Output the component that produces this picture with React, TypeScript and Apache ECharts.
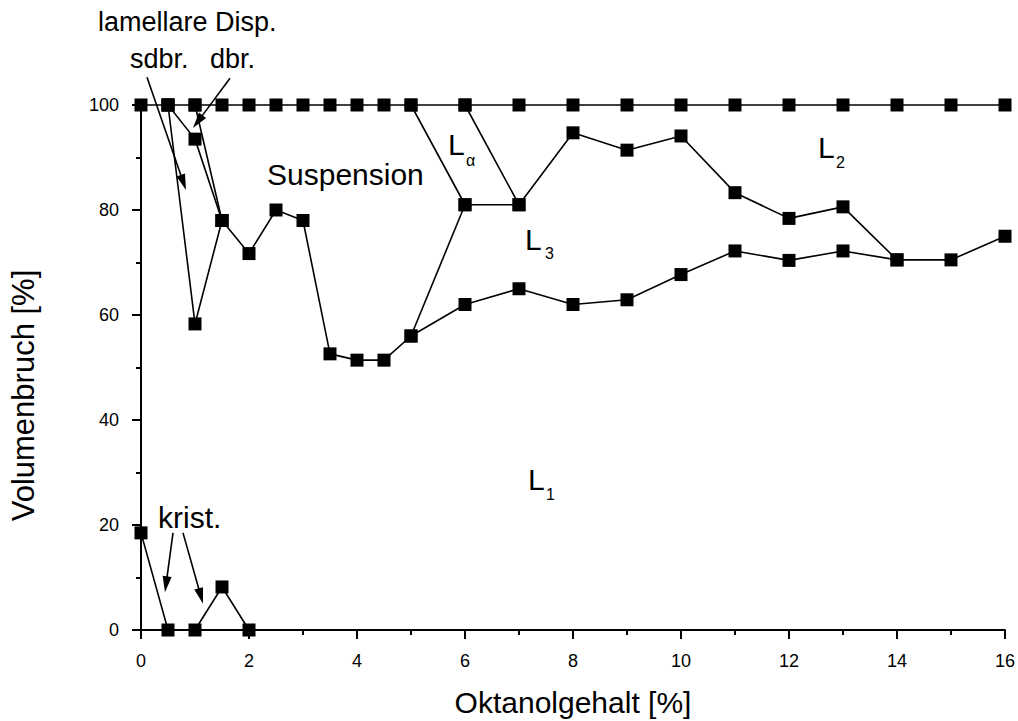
import React, { useEffect, useRef } from "react";
import * as echarts from "echarts";

// ---- Data (Oktanolgehalt [%] vs Volumenbruch [%]) ----
const topX = [0, 0.5, 1, 1.5, 2, 2.5, 3, 3.5, 4, 4.5, 5, 6, 7, 8, 9, 10, 11, 12, 13, 14, 15, 16];
const topY = [100, 100, 100, 100, 100, 100, 100, 100, 100, 100, 100, 100, 100, 100, 100, 100, 100, 100, 100, 100, 100, 100];

const suspX = [0.5, 1, 1.5, 2, 2.5, 3, 3.5, 4, 4.5, 5, 6, 7, 8, 9, 10, 11, 12, 13, 14, 15, 16];
const suspY = [100, 58.3, 78, 71.7, 80, 78, 52.6, 51.4, 51.4, 56, 62, 65, 62, 62.9, 67.7, 72.2, 70.4, 72.2, 70.5, 70.5, 75];

const dbrX = [0.5, 1, 1.5];
const dbrY = [100, 93.5, 78];

const dbr2X = [1, 1.5];
const dbr2Y = [100, 78];

const l3TopX = [5, 6, 7, 8, 9, 10, 11, 12, 13, 14];
const l3TopY = [100, 81, 81, 94.7, 91.4, 94.1, 83.3, 78.4, 80.6, 70.5];

const lAlphaX = [6, 7];
const lAlphaY = [100, 81];

const l3LowX = [5, 6];
const l3LowY = [56, 81];

const kristX = [0, 0.5, 1, 1.5, 2];
const kristY = [18.5, 0, 0, 8.2, 0];

// annotation arrows (data coordinates): start -> tip
const arrowFromX = [0.111, 1.648, 0.593, 0.778];
const arrowFromY = [105.3, 105.1, 18.5, 18.5];
const arrowTipX = [0.833, 0.963, 0.444, 1.148];
const arrowTipY = [83.8, 95.6, 7.2, 5.0];

const xTitle = "Oktanolgehalt [%]";
const yTitle = "Volumenbruch [%]";

const FONT = 'Arial, "Liberation Sans", Helvetica, sans-serif';

const zip = (xs: number[], ys: number[]) => xs.map((x, i) => [x, ys[i]]);

function lineSeries(name: string, xs: number[], ys: number[]) {
  return {
    name,
    type: "line",
    data: zip(xs, ys),
    symbol: "rect",
    symbolSize: 13,
    showSymbol: true,
    clip: false,
    silent: true,
    lineStyle: { color: "#000", width: 1.6 },
    itemStyle: { color: "#000", borderWidth: 0 },
    emphasis: { disabled: true },
  };
}

export default function App() {
  const ref = useRef<HTMLDivElement>(null);

  useEffect(() => {
    if (!ref.current) return;
    const chart = echarts.init(ref.current, undefined, { renderer: "svg" });

    const txt = (text: string, x: number, y: number, size: number) => ({
      type: "text",
      x,
      y,
      silent: true,
      style: {
        text,
        fontSize: size,
        fontFamily: FONT,
        fill: "#000",
        align: "left",
        verticalAlign: "middle",
      },
    });

    const axisCommon = {
      axisLine: { show: true, onZero: false, lineStyle: { color: "#000", width: 2 } },
      axisTick: { show: true, inside: false, length: 9, lineStyle: { color: "#000", width: 2 } },
      minorTick: { show: true, splitNumber: 2, length: 5, lineStyle: { color: "#000", width: 2 } },
      splitLine: { show: false },
      minorSplitLine: { show: false },
    };

    chart.setOption({
      animation: false,
      backgroundColor: "#fff",
      grid: {
        left: 141,
        right: 13,
        top: 105,
        bottom: 91,
        containLabel: false,
        outerBoundsMode: "none",
      },
      xAxis: {
        type: "value",
        min: 0,
        max: 16,
        interval: 2,
        name: xTitle,
        nameLocation: "middle",
        nameGap: 57,
        nameTextStyle: { fontSize: 30, color: "#000", fontFamily: FONT },
        axisLabel: { fontSize: 18, color: "#000", margin: 22, fontFamily: FONT },
        ...axisCommon,
      },
      yAxis: {
        type: "value",
        min: 0,
        max: 100,
        interval: 20,
        name: yTitle,
        nameLocation: "middle",
        nameGap: 102,
        nameTextStyle: { fontSize: 31, color: "#000", fontFamily: FONT, padding: [0, 56, 0, 0] },
        axisLabel: { fontSize: 18, color: "#000", margin: 22, fontFamily: FONT },
        ...axisCommon,
      },
      series: [
        lineSeries("top", topX, topY),
        lineSeries("suspension", suspX, suspY),
        lineSeries("dbr", dbrX, dbrY),
        lineSeries("dbr2", dbr2X, dbr2Y),
        lineSeries("L3 upper", l3TopX, l3TopY),
        lineSeries("L alpha", lAlphaX, lAlphaY),
        lineSeries("L3 lower", l3LowX, l3LowY),
        lineSeries("krist", kristX, kristY),
      ],
    });

    // arrows built from data coordinates through the grid's scales
    const arrowEls: any[] = [];
    const HEAD_L = 16;
    const HEAD_W = 4.5;
    arrowFromX.forEach((fx, i) => {
      const p0 = chart.convertToPixel({ gridIndex: 0 }, [fx, arrowFromY[i]]) as number[];
      const p1 = chart.convertToPixel({ gridIndex: 0 }, [arrowTipX[i], arrowTipY[i]]) as number[];
      const dx = p1[0] - p0[0];
      const dy = p1[1] - p0[1];
      const len = Math.sqrt(dx * dx + dy * dy);
      const ux = dx / len;
      const uy = dy / len;
      const bx = p1[0] - ux * HEAD_L;
      const by = p1[1] - uy * HEAD_L;
      arrowEls.push({
        type: "line",
        silent: true,
        shape: { x1: p0[0], y1: p0[1], x2: bx + ux * 2, y2: by + uy * 2 },
        style: { stroke: "#000", lineWidth: 1.6 },
      });
      arrowEls.push({
        type: "polygon",
        silent: true,
        shape: {
          points: [
            [p1[0], p1[1]],
            [bx - uy * HEAD_W, by + ux * HEAD_W],
            [bx + uy * HEAD_W, by - ux * HEAD_W],
          ],
        },
        style: { fill: "#000" },
      });
    });

    chart.setOption({
      graphic: [
        txt("lamellare Disp.", 98, 21.6, 27),
        txt("sdbr.", 130, 58.6, 27),
        txt("dbr.", 210, 58.6, 27),
        txt("Suspension", 267, 174.6, 30),
        txt("krist.", 158, 517.6, 30),
        txt("L", 448, 144.6, 30),
        txt("α", 466, 160.5, 16),
        txt("L", 818, 147.6, 30),
        txt("2", 836, 162.5, 16),
        txt("L", 525, 239.6, 30),
        txt("3", 545, 253.5, 16),
        txt("L", 528, 479.6, 30),
        txt("1", 546, 494, 16),
        ...arrowEls,
      ],
    });

    return () => chart.dispose();
  }, []);

  return (
    <div
      ref={ref}
      style={{ position: "absolute", left: 0, top: 0, width: 1018, height: 721, background: "#fff" }}
    />
  );
}
